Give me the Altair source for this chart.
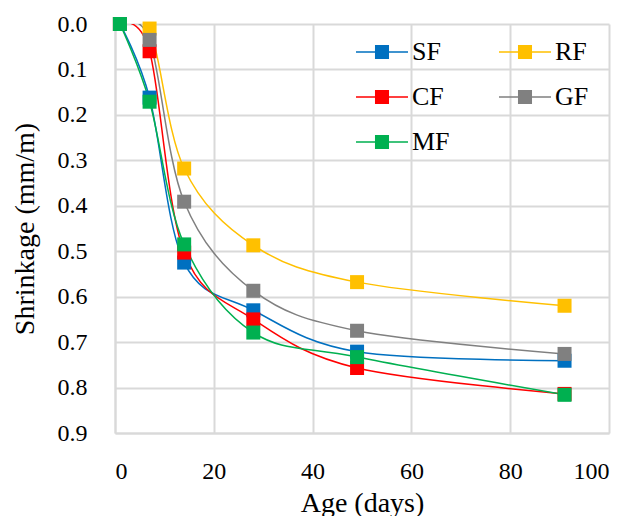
import altair as alt
import pandas as pd

days = [1, 7, 14, 28, 49, 91]
series = ["SF", "RF", "CF", "GF", "MF"]
colors = ["#0070C0", "#FFC000", "#FF0000", "#808080", "#00B050"]
legend_order = ["SF", "CF", "MF", "RF", "GF"]
sf = [0.0, 0.162, 0.525, 0.630, 0.721, 0.741]
rf = [0.0, 0.010, 0.318, 0.487, 0.568, 0.620]
cf = [0.0, 0.060, 0.503, 0.650, 0.757, 0.814]
gf = [0.0, 0.035, 0.391, 0.587, 0.675, 0.726]
mf = [0.0, 0.171, 0.485, 0.679, 0.733, 0.816]
x_ticks = [0, 20, 40, 60, 80, 100]
y_ticks = [0.0, 0.1, 0.2, 0.3, 0.4, 0.5, 0.6, 0.7, 0.8, 0.9]

rows = []
for name, vals in zip(series, [sf, rf, cf, gf, mf]):
    for d, v in zip(days, vals):
        rows.append({"Age": d, "Shrinkage": v, "Series": name})
df = pd.DataFrame(rows)

FONT = "Liberation Serif"
color_of = dict(zip(series, colors))

x = alt.X("Age:Q", scale=alt.Scale(domain=[0, 100], nice=False),
          axis=alt.Axis(values=x_ticks, title="Age (days)", format="d"))
y = alt.Y("Shrinkage:Q", scale=alt.Scale(domain=[0, 0.9], reverse=True, nice=False, zero=False),
          axis=alt.Axis(values=y_ticks, format=".1f", title="Shrinkage (mm/m)"))
sc = alt.Scale(domain=legend_order, range=[color_of[s] for s in legend_order])

legend = alt.Legend(
    title=None, orient="none", legendX=241, legendY=2, columns=2,
    symbolType="M-1,-0.03H1V0.03H-1Z M-0.27,-0.27H0.27V0.27H-0.27Z",
    symbolSize=2704, symbolStrokeWidth=0, symbolOpacity=1,
    labelFont=FONT, labelFontSize=26, labelColor="black", labelOffset=4,
    columnPadding=49, rowPadding=6,
)

lines = alt.Chart(df).mark_line(interpolate="cardinal", strokeWidth=1.5, clip=True).encode(
    x=x, y=y, color=alt.Color("Series:N", scale=sc),
    order=alt.Order("Age:Q"),
)
points = alt.Chart(df).mark_square(size=196, filled=True, opacity=1).encode(
    x=x, y=y,
    color=alt.Color("Series:N", scale=sc, legend=legend),
)

chart = alt.layer(lines, points).properties(
    width=494, height=409,
    autosize=alt.AutoSizeParams(type="none"),
    padding={"left": 107, "top": 16, "right": 11, "bottom": 83},
).configure_view(stroke=None).configure_axis(
    grid=True, gridColor="#d9d9d9", gridWidth=2,
    domainColor="#d9d9d9", domainWidth=2,
    ticks=False, tickSize=0,
    labelFont=FONT, labelFontSize=24, labelColor="black",
    titleFont=FONT, titleFontSize=28, titleColor="black", titleFontWeight="normal",
).configure_axisY(labelPadding=28, titlePadding=18).configure_axisX(labelPadding=26, titlePadding=6)

chart.save("out.html", embed_options={"renderer": "svg", "actions": False})
